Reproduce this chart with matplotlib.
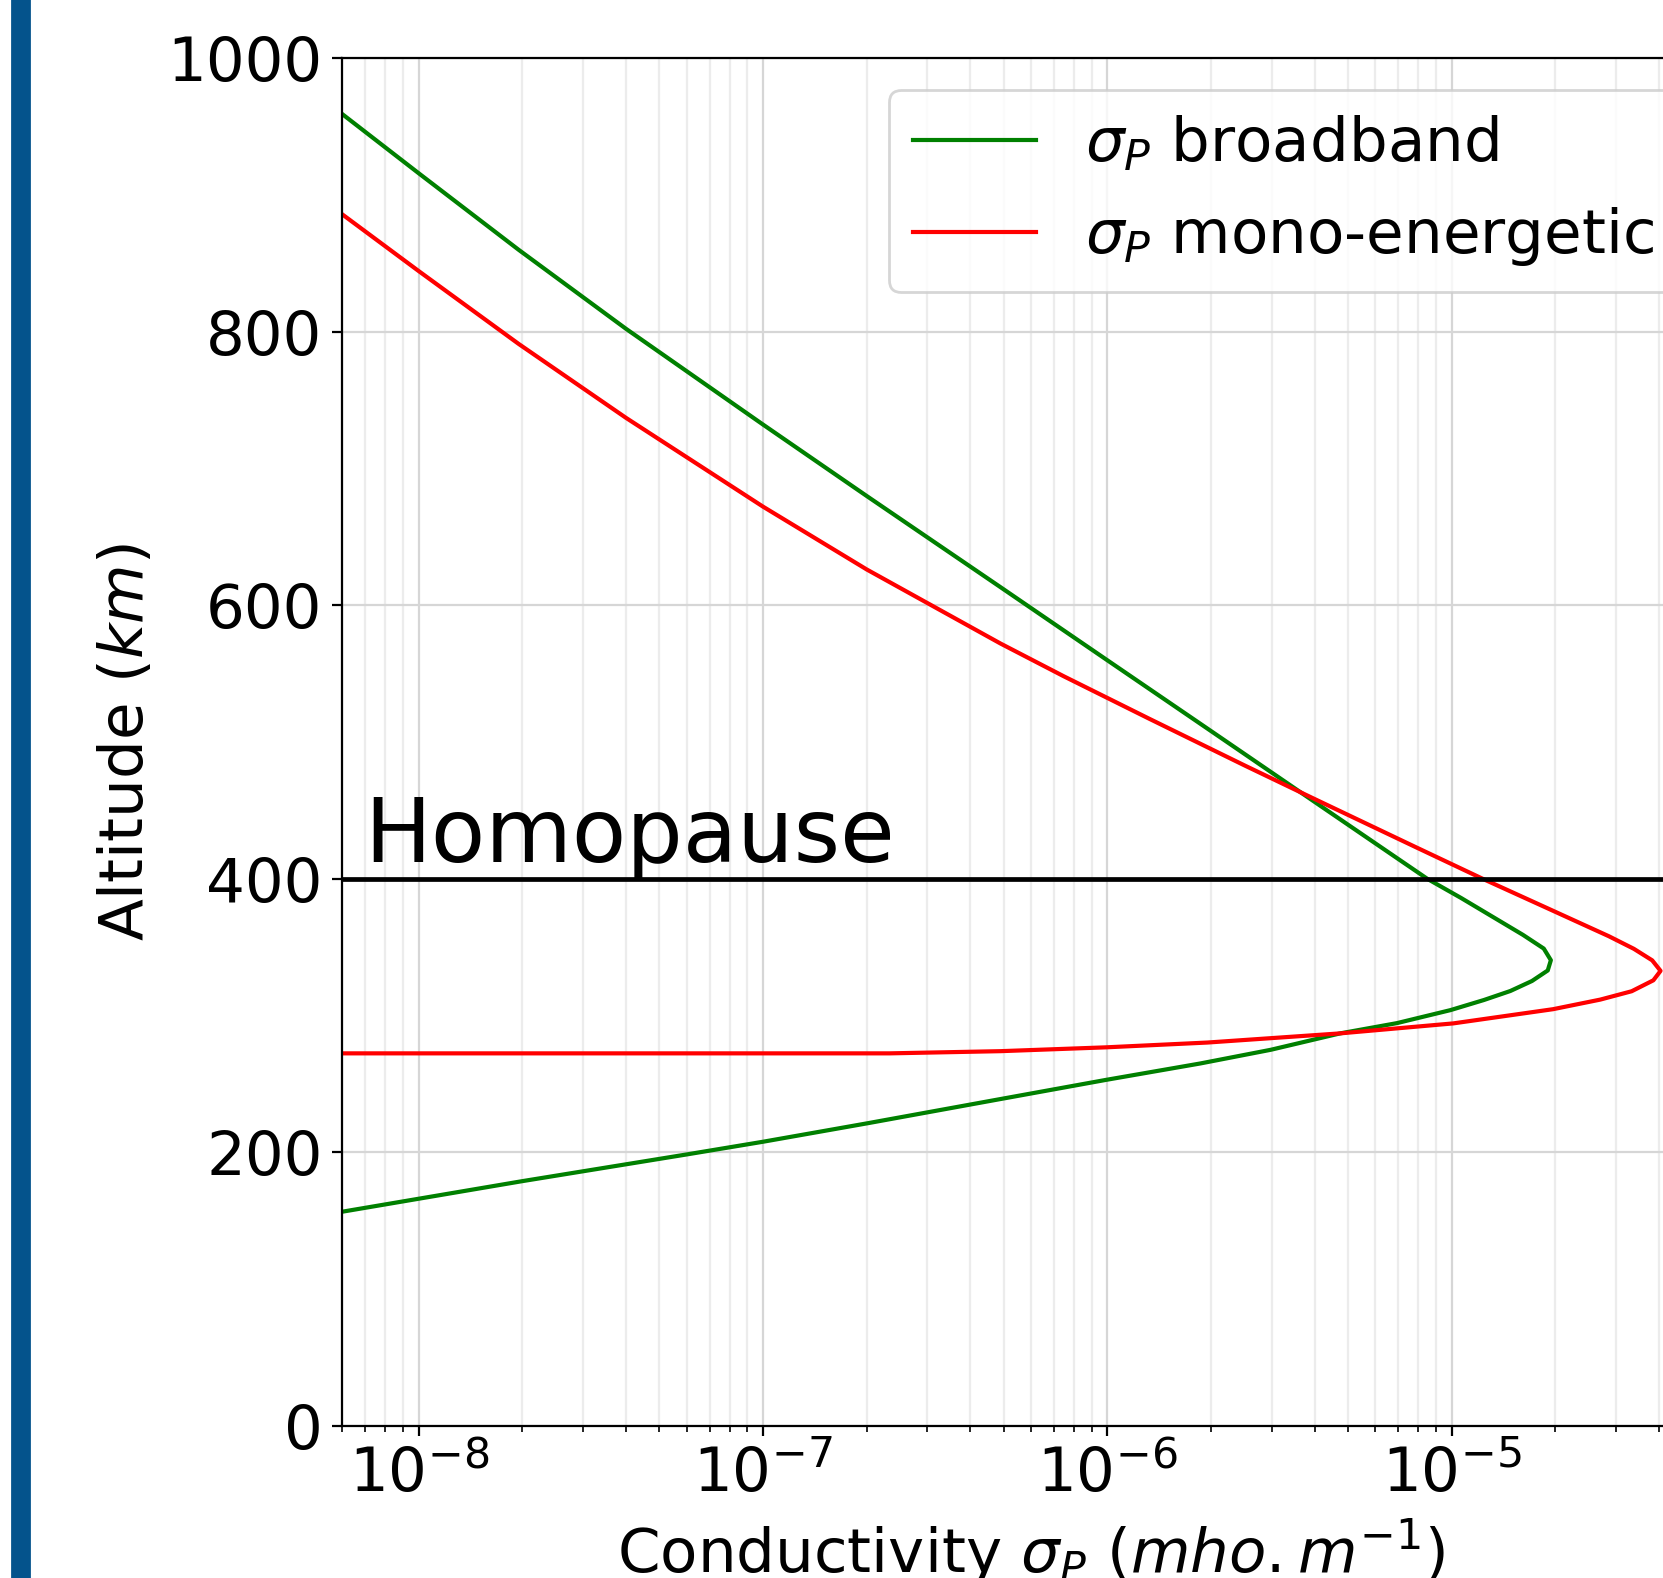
import numpy as np
import matplotlib
matplotlib.use("Agg")
import matplotlib.pyplot as plt
from matplotlib.patches import Rectangle

# broadband Pedersen conductivity (mho/m) vs altitude (km)
alt_broad = [156.6, 179, 198.6, 207.8, 221.3, 239, 253, 265, 275, 287, 294.5, 304, 311.4,
             318, 325.3, 333, 340.5, 349, 359, 386, 400, 456.9, 507.6, 559.7, 613.2,
             679.8, 732.0, 802.0, 859.8, 915.7, 959.2]
sig_broad = [5.98e-9, 2.0e-8, 6.03e-8, 1.0e-7, 2.01e-7, 4.89e-7, 9.9e-7, 1.86e-6, 2.98e-6,
             4.74e-6, 6.93e-6, 9.91e-6, 1.24e-5, 1.48e-5, 1.71e-5, 1.90e-5, 1.94e-5,
             1.85e-5, 1.61e-5, 1.064e-5, 8.49e-6, 3.96e-6, 2.01e-6, 1.0e-6, 4.89e-7,
             2.0e-7, 1.0e-7, 4.0e-8, 1.95e-8, 1.0e-8, 5.98e-9]

# mono-energetic Pedersen conductivity
alt_mono = [272.4, 272.4, 274.0, 276.8, 280.3, 287, 294.3, 304.7, 311.7, 317.8, 325.8,
            332.7, 340.4, 348.8, 358, 377.6, 400, 423.4, 458.8, 482.7, 517.1, 548.1,
            572.0, 626.1, 672.0, 736.9, 791.0, 844.2, 885.9]
sig_mono = [1e-12, 2.33e-7, 4.89e-7, 9.9e-7, 1.95e-6, 4.74e-6, 1.01e-5, 1.97e-5, 2.70e-5,
            3.33e-5, 3.85e-5, 4.04e-5, 3.82e-5, 3.38e-5, 2.86e-5, 1.93e-5, 1.23e-5,
            7.82e-6, 3.96e-6, 2.51e-6, 1.32e-6, 7.46e-7, 4.89e-7, 2.0e-7, 1.0e-7,
            4.0e-8, 1.95e-8, 1.0e-8, 5.98e-9]

homopause = 400

plt.rcParams['font.size'] = 22

W, H = 1663, 1578
fig = plt.figure(figsize=(W / 200, H / 200), dpi=200)

# blue side bar of the slide
fig.add_artist(Rectangle((12 / W, 0), 17 / W, 1, transform=fig.transFigure,
                         color='#04538c', zorder=0))

left, right, top, bottom = 342, 1720, 58, 1426
ax = fig.add_axes([left / W, 1 - bottom / H, (right - left) / W, (bottom - top) / H])

ax.plot(sig_broad, alt_broad, color='green', lw=1.5, label=r'$\sigma_P$ broadband')
ax.plot(sig_mono, alt_mono, color='red', lw=1.5, label=r'$\sigma_P$ mono-energetic')
ax.axhline(homopause, color='k', lw=1.7)
ax.text(10 ** -8.158, 412, 'Homopause', fontsize=32, va='baseline')

ax.set_xscale('log')
ax.set_xlim(10 ** -8.223, 10 ** -4.221)
ax.set_ylim(0, 1000)
ax.set_yticks([0, 200, 400, 600, 800, 1000])
ax.grid(True, which='major', color='#d6d6d6', lw=0.8)
ax.grid(True, which='minor', axis='x', color='#ececec', lw=0.8)
ax.set_axisbelow(True)

ax.set_xlabel(r'Conductivity $\sigma_P$ $(mho.m^{-1})$')
ax.set_ylabel(r'Altitude ($km$)')

ax.legend(loc='upper left', bbox_to_anchor=(889 / W, 1 - 90 / H),
          bbox_transform=fig.transFigure, borderaxespad=0)

fig.savefig('out.png', dpi=200)
